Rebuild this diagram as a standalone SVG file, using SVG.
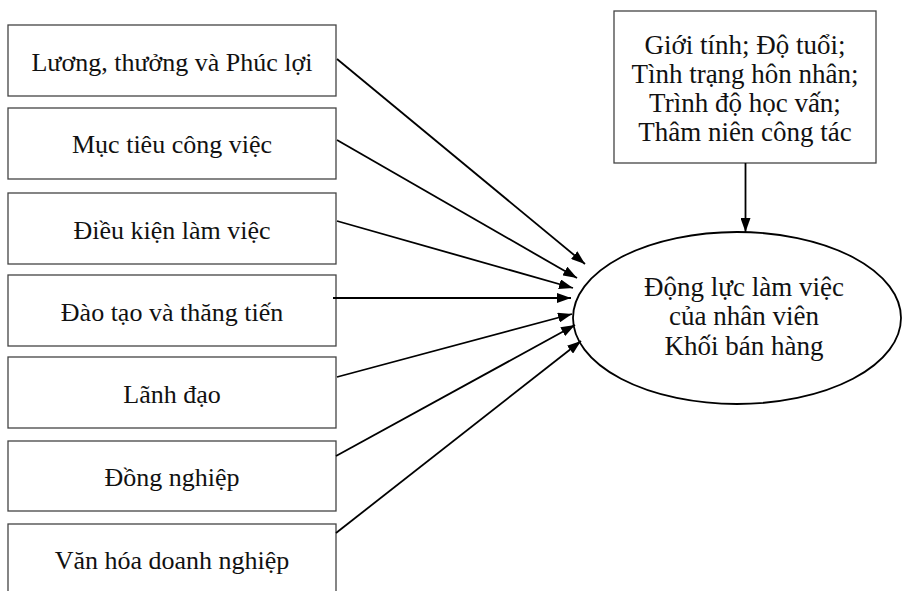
<svg xmlns="http://www.w3.org/2000/svg" width="902" height="591" viewBox="0 0 902 591">
<style>
.box{fill:#fff;stroke:#444;stroke-width:1.3}
.t{font-family:"Liberation Serif","Times New Roman",serif;font-size:26px;fill:#111;text-anchor:middle}
.t2{font-family:"Liberation Serif","Times New Roman",serif;font-size:27px;fill:#111;text-anchor:middle}
.ln{stroke:#000;stroke-width:1.8;fill:none;marker-end:url(#ah)}
</style>
<defs>
<marker id="ah" markerUnits="userSpaceOnUse" viewBox="0 0 14 10" refX="14" refY="5" markerWidth="14" markerHeight="10" orient="auto">
<path d="M0,0 L14,5 L0,10 z" fill="#000"/>
</marker>
</defs>
<rect width="902" height="591" fill="#fff"/>
<g id="n1"><rect class="box" x="8" y="25" width="328" height="71"/><text class="t" x="172" y="71">Lương, thưởng và Phúc lợi</text></g>
<g id="n2"><rect class="box" x="8" y="108" width="328" height="71"/><text class="t" x="172" y="153">Mục tiêu công việc</text></g>
<g id="n3"><rect class="box" x="8" y="193" width="328" height="71"/><text class="t" x="172" y="239">Điều kiện làm việc</text></g>
<g id="n4"><rect class="box" x="8" y="275" width="328" height="71"/><text class="t" x="172" y="321">Đào tạo và thăng tiến</text></g>
<g id="n5"><rect class="box" x="8" y="357" width="328" height="71"/><text class="t" x="172" y="403">Lãnh đạo</text></g>
<g id="n6"><rect class="box" x="8" y="441" width="328" height="70"/><text class="t" x="172" y="486">Đồng nghiệp</text></g>
<g id="n7"><rect class="box" x="8" y="524" width="328" height="80"/><text class="t" x="172" y="569">Văn hóa doanh nghiệp</text></g>
<g id="demo"><rect class="box" x="614" y="11" width="262" height="152"/>
<text class="t2" x="745" y="54">Giới tính; Độ tuổi;</text>
<text class="t2" x="745" y="83">Tình trạng hôn nhân;</text>
<text class="t2" x="745" y="112">Trình độ học vấn;</text>
<text class="t2" x="745" y="141">Thâm niên công tác</text></g>
<g id="target"><ellipse cx="737" cy="318" rx="164" ry="86" fill="#fff" stroke="#000" stroke-width="1.8"/>
<text class="t2" x="744" y="296">Động lực làm việc</text>
<text class="t2" x="744" y="325">của nhân viên</text>
<text class="t2" x="744" y="355">Khối bán hàng</text></g>
<g id="connectors">
<line class="ln" x1="337" y1="59" x2="585" y2="264"/>
<line class="ln" x1="337" y1="140" x2="577" y2="278"/>
<line class="ln" x1="337" y1="221" x2="573" y2="288"/>
<line class="ln" x1="333" y1="298" x2="571" y2="298"/>
<line class="ln" x1="337" y1="377" x2="572" y2="314"/>
<line class="ln" x1="336" y1="456" x2="575" y2="325"/>
<line class="ln" x1="336" y1="533" x2="581" y2="341"/>
<line class="ln" x1="745.5" y1="163" x2="745.5" y2="232"/>
</g>
</svg>
